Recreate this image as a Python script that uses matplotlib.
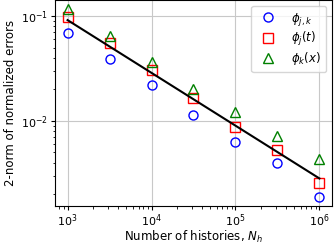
import matplotlib
matplotlib.use("Agg")
import matplotlib.pyplot as plt

# number of histories
n_hist = [1e3, 3.16e3, 1e4, 3.16e4, 1e5, 3.16e5, 1e6]

# 2-norm of normalized errors for each basis
err_jk = [0.069, 0.039, 0.022, 0.0114, 0.0063, 0.00398, 0.00189]
err_j = [0.099, 0.0553, 0.0308, 0.0166, 0.00877, 0.00525, 0.00257]
err_k = [0.116, 0.065, 0.0367, 0.0202, 0.0122, 0.0072, 0.00431]

# reference fit line
fit_x = [1e3, 1e6]
fit_y = [0.0916, 0.00282]

plt.rcParams['font.size'] = 8.5
plt.rcParams['xtick.labelsize'] = 8
plt.rcParams['ytick.labelsize'] = 8
plt.rcParams['xtick.major.size'] = 3
plt.rcParams['ytick.major.size'] = 3
plt.rcParams['xtick.minor.size'] = 1.8
plt.rcParams['ytick.minor.size'] = 1.8
plt.rcParams['xtick.major.pad'] = 1.5
plt.rcParams['ytick.major.pad'] = 2
plt.rcParams['axes.linewidth'] = 0.8

fig = plt.figure(figsize=(3.34, 2.46), dpi=100)
ax = fig.add_axes([55/334, 1-206/246, 277/334, 206/246])

ax.loglog(n_hist, err_jk, 'bo', mfc='none', ms=6.5, label=r'$\phi_{j,k}$')
ax.loglog(n_hist, err_j, 'rs', mfc='none', ms=6.5, label=r'$\phi_j(t)$')
ax.loglog(n_hist, err_k, 'g^', mfc='none', ms=6.5, label=r'$\phi_k(x)$')
ax.loglog(fit_x, fit_y, 'k-', lw=1.5)

ax.grid(True, which='major', color='#c8c8c8', lw=0.8)
ax.set_axisbelow(True)
ax.set_xlabel(r'Number of histories, $N_h$', labelpad=0)
ax.set_ylabel('2-norm of normalized errors', labelpad=3)
ax.legend(loc='upper right', handletextpad=1.0, labelspacing=0.2, fontsize=8.5)

fig.savefig('out.png', dpi=100)
